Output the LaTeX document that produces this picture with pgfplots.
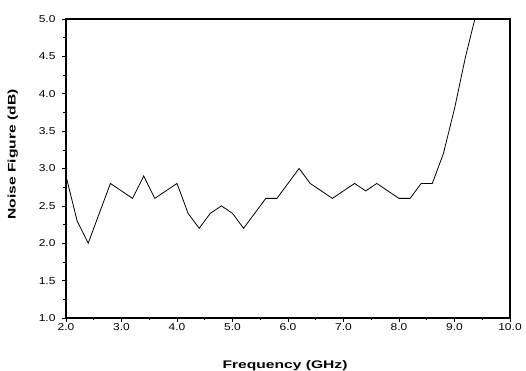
\documentclass[border=0pt]{standalone}
\usepackage{pgfplots}
\pgfplotsset{compat=1.18}
\usepackage{fontspec}
\setmainfont{Liberation Sans}
\newfontfamily\tickfont[FakeStretch=1.2]{Liberation Sans}
\newfontfamily\xlabfont[FakeStretch=1.42]{Liberation Sans}
\newfontfamily\ylabfont[FakeStretch=1.42]{Liberation Sans}
\begin{document}
\begin{tikzpicture}
\useasboundingbox (-66pt,-53pt) rectangle (460pt,318pt);
\begin{axis}[
  scale only axis, width=444pt, height=299pt,
  at={(0,0)}, anchor=south west,
  xmin=2, xmax=10, ymin=1, ymax=5,
  xtick={2,3,...,10}, ytick={1,1.5,...,5},
  minor x tick num=1, minor y tick num=1,
  tick align=outside, tick pos=left,
  major tick length=4pt, minor tick length=2.5pt,
  axis line style={line width=1.5pt},
  every tick/.style={black, line width=0.6pt},
  /pgf/number format/assume math mode=true,
  ticklabel style={font=\tickfont\fontsize{10}{12}\selectfont},
  xticklabel style={yshift=2pt, /pgf/number format/.cd, fixed, fixed zerofill, precision=1},
  yticklabel style={xshift=-3pt, /pgf/number format/.cd, fixed, fixed zerofill, precision=1},
  xlabel={\xlabfont\bfseries Frequency (GHz)},
  ylabel={\ylabfont\bfseries Noise Figure (dB)},
  label style={font=\fontsize{11}{13}\selectfont},
  xlabel style={yshift=-23pt, xshift=-3pt},
  ylabel style={yshift=14pt, xshift=14pt},
  clip=true,
]
\addplot[black, line width=0.8pt] coordinates {
(2.0,2.9) (2.2,2.3) (2.4,2.0) (2.6,2.4) (2.8,2.8) (3.0,2.7) (3.2,2.6)
(3.4,2.9) (3.6,2.6) (3.8,2.7) (4.0,2.8) (4.2,2.4) (4.4,2.2) (4.6,2.4)
(4.8,2.5) (5.0,2.4) (5.2,2.2) (5.4,2.4) (5.6,2.6) (5.8,2.6) (6.0,2.8)
(6.2,3.0) (6.4,2.8) (6.6,2.7) (6.8,2.6) (7.0,2.7) (7.2,2.8) (7.4,2.7)
(7.6,2.8) (7.8,2.7) (8.0,2.6) (8.2,2.6) (8.4,2.8) (8.6,2.8) (8.8,3.2)
(9.0,3.8) (9.2,4.5) (9.4,5.1)
};
\end{axis}
\draw[line width=1.8pt, line cap=rect] (current axis.south east) -- (current axis.north east) -- (current axis.north west);
\end{tikzpicture}
\end{document}
